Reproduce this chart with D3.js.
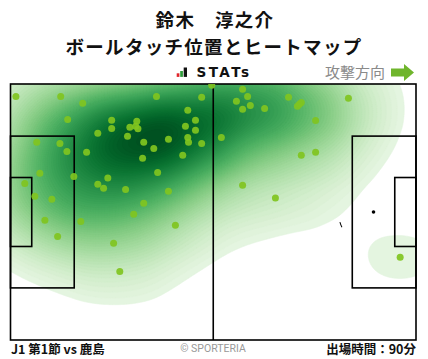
<!DOCTYPE html>
<html><head><meta charset="utf-8">
<script src="https://cdn.jsdelivr.net/npm/d3@7"></script>
<style>
html,body{margin:0;padding:0;background:#fff;}
svg{display:block;}
</style></head>
<body>
<script>
// ---- data (pitch metres, 105 x 68, attacking left -> right) ----
const title = "鈴木　淳之介";
const subtitle = "ボールタッチ位置とヒートマップ";
const directionLabel = "攻撃方向";
const matchLabel = "J1 第1節 vs 鹿島";
const creditLabel = "© SPORTERIA";
const minutesLabel = "出場時間：90分";
const touchX = [1.4,13.0,18.7,37.8,49.5,45.9,14.8,26.2,32.7,47.9,26.2,30.9,32.4,33.0,45.3,47.9,22.6,30.3,45.9,34.5,40.9,46.1,49.5,6.8,12.8,14.6,19.7,37.1,34.2,44.6,7.6,16.4,38.1,3.7,25.2,22.6,24.1,29.8,40.9,6.3,10.7,34.5,8.9,18.2,31.9,12.2,42.7,26.7,28.3,52.1,60.1,58.5,61.4,60.1,62.1,65.8,72.0,74.3,75.3,74.8,87.5,79.0,54.6,79.0,75.3,60.1,68.6,100.9];
const touchY = [3.3,3.3,5.1,3.3,3.5,7.0,9.4,9.6,9.9,9.6,11.8,11.5,11.2,11.9,11.2,12.3,13.1,13.9,14.2,15.5,14.7,15.5,15.8,15.5,15.8,17.9,18.1,17.1,19.7,18.9,23.7,24.6,23.5,26.4,25.0,26.6,27.7,28.0,28.5,29.8,30.6,31.7,36.2,36.5,34.6,40.5,37.5,42.3,49.8,0.3,1.4,4.6,3.3,6.7,5.7,6.5,3.5,5.9,4.9,5.4,3.8,9.7,14.2,18.1,18.9,26.9,30.3,46.0];
const pitchLength = [0,105];
const pitchWidth = [0,68];

const W = 428, H = 359;
const svg = d3.select("body").append("svg").attr("width", W).attr("height", H);
const x = d3.scaleLinear().domain(pitchLength).range([10.5, 416]);
const y = d3.scaleLinear().domain(pitchWidth).range([84, 340]);
const FONT = "'Noto Sans CJK JP','Noto Sans',sans-serif";

// header
svg.append("text").attr("x", 215).attr("y", 26.5).attr("text-anchor","middle")
  .attr("font-family", FONT).attr("font-weight", 700).attr("font-size", 18.5).attr("letter-spacing",1.3).attr("fill","#111").text(title);
svg.append("text").attr("x", 214).attr("y", 53.5).attr("text-anchor","middle")
  .attr("font-family", FONT).attr("font-weight", 700).attr("font-size", 18.5).attr("letter-spacing",1.3).attr("fill","#111").text(subtitle);
// STATs logo
const logo = svg.append("g");
logo.append("rect").attr("x",176.7).attr("y",73.3).attr("width",2.7).attr("height",3.6).attr("fill","#e0262b");
logo.append("rect").attr("x",180.2).attr("y",71).attr("width",2.7).attr("height",5.9).attr("fill","#2e9c3a");
logo.append("rect").attr("x",183.7).attr("y",67.5).attr("width",3.3).attr("height",9.4).attr("fill","#111");
logo.append("text").attr("x",196.5).attr("y",77).attr("font-family","'DejaVu Sans',sans-serif")
  .attr("font-weight",700).attr("font-size",13.6).attr("letter-spacing",2.4).attr("fill","#111").text("STATs");
// direction
svg.append("text").attr("x", 385).attr("y", 78).attr("text-anchor","end")
  .attr("font-family", FONT).attr("font-size", 15).attr("fill","#8a8a8a").text(directionLabel);
svg.append("path").attr("d","M391,68.5H404V64L414,72.5L404,81V76.5H391Z").attr("fill","#6fb52c");

// pitch
const defs = svg.append("defs");
defs.append("clipPath").attr("id","pc").append("rect")
  .attr("x", x(0)).attr("y", y(0)).attr("width", x(105)-x(0)).attr("height", y(68)-y(0));

// heatmap: KDE with wider horizontal bandwidth (density computed in x-compressed space)
const SX = 1.4;
const pts = touchX.map((d,i)=>[x(d), y(touchY[i])]);
const cd = d3.contourDensity().x(d=>d[0]/SX).y(d=>d[1]).size([Math.ceil(W/SX),H]).cellSize(2).bandwidth(30).contours(pts);
const maxV = cd.max;
const N = 64;
const levels = d3.range(N).map(i => maxV * (0.042 + 0.958 * i / N));
const color = v => d3.interpolateGreens(0.03 + 0.94 * Math.pow(v / maxV, 0.75));
const hm = svg.append("g").attr("clip-path","url(#pc)").append("g").attr("transform",`scale(${SX},1)`);
hm.selectAll("path").data(levels).join("path")
  .attr("d", t => d3.geoPath()(cd(t))).attr("fill", t=>color(t)).attr("stroke", t=>color(t)).attr("stroke-width",0.5);

// lines
const lines = svg.append("g").attr("fill","none").attr("stroke","#000").attr("stroke-width",1.6);
lines.append("rect").attr("x", x(0)).attr("y", y(0)).attr("width", x(105)-x(0)).attr("height", y(68)-y(0));
lines.append("line").attr("x1", x(52.5)).attr("x2", x(52.5)).attr("y1", y(0)).attr("y2", y(68));
const boxes = [[0,16.5,13.84,54.16],[0,5.5,24.84,43.16],[88.5,105,13.84,54.16],[99.5,105,24.84,43.16]];
boxes.forEach(b=>lines.append("rect").attr("x",x(b[0])).attr("y",y(b[2])).attr("width",x(b[1])-x(b[0])).attr("height",y(b[3])-y(b[2])));
svg.append("circle").attr("cx", x(94)).attr("cy", y(34)).attr("r", 1.8).attr("fill","#000");
svg.append("path").attr("transform",`translate(${x(94)},${y(34)})`)
  .attr("d", d3.arc()({innerRadius:34.6, outerRadius:35.6, startAngle:4.26, endAngle:4.42})).attr("fill","#000");

// touches
svg.append("g").attr("clip-path","url(#pc)").selectAll("circle").data(pts).join("circle")
  .attr("cx", d=>d[0]).attr("cy", d=>d[1]).attr("r", 3.5).attr("fill","#80c41f").attr("fill-opacity",0.92);

// footer
svg.append("text").attr("x", 11).attr("y", 354).attr("font-family", FONT).attr("font-weight",700)
  .attr("font-size",12.5).attr("fill","#111").text(matchLabel);
svg.append("text").attr("x", 213).attr("y", 352).attr("text-anchor","middle").attr("font-family","'Roboto','Noto Sans',sans-serif")
  .attr("font-size",10.5).attr("fill","#999").text(creditLabel);
svg.append("text").attr("x", 416).attr("y", 354).attr("text-anchor","end").attr("font-family", FONT).attr("font-weight",700)
  .attr("font-size",12.5).attr("fill","#111").text(minutesLabel);
</script>
</body></html>
